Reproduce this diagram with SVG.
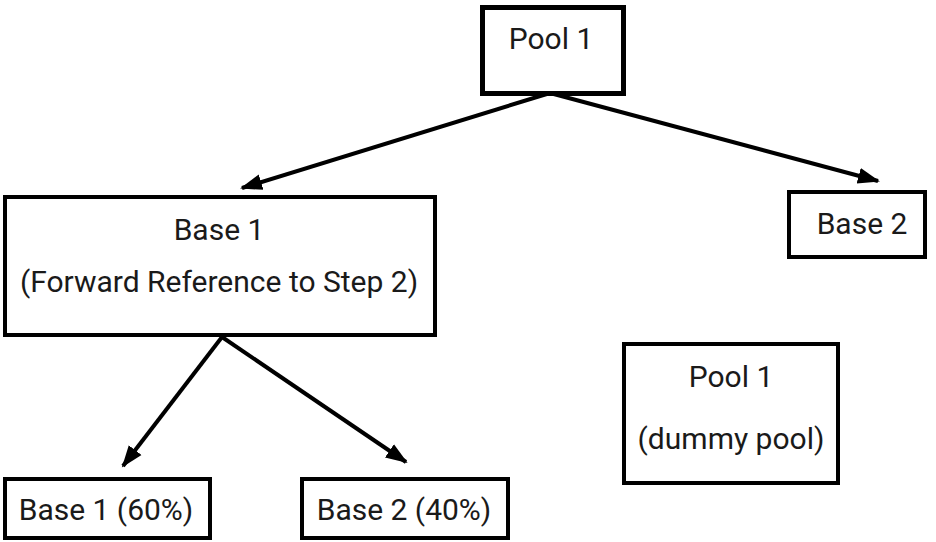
<svg xmlns="http://www.w3.org/2000/svg" width="936" height="542" viewBox="0 0 936 542">
<style>
.box{fill:#fff;stroke:#000;stroke-width:4}
.t{font-family:Roboto,"Liberation Sans",sans-serif;font-size:30px;fill:#1a1a1a;text-anchor:middle}
.c{stroke:#000;stroke-width:4;fill:none;marker-end:url(#ah)}
</style>
<defs>
<marker id="ah" markerUnits="userSpaceOnUse" markerWidth="24" markerHeight="20" refX="20" refY="8" orient="auto" viewBox="0 0 24 16">
<path d="M0,0 L22,8 L0,16 Z" fill="#000"/>
</marker>
</defs>
<rect width="936" height="542" fill="#fff"/>
<g id="connectors">
<line class="c" x1="550" y1="93" x2="242" y2="188"/>
<line class="c" x1="550" y1="93" x2="878" y2="181"/>
<line class="c" x1="222" y1="337" x2="123" y2="466"/>
<line class="c" x1="222" y1="337" x2="406" y2="462"/>
</g>
<g id="pool1">
<rect class="box" x="482.5" y="7.5" width="141" height="86" style="stroke-width:5"/>
<text class="t" x="551" y="49">Pool 1</text>
</g>
<g id="base1">
<rect class="box" x="5" y="197" width="430" height="138"/>
<text class="t" x="219" y="240">Base 1</text>
<text class="t" x="219" y="292">(Forward Reference to Step 2)</text>
</g>
<g id="base2">
<rect class="box" x="789" y="192" width="136" height="65"/>
<text class="t" x="862" y="234">Base 2</text>
</g>
<g id="base1-60">
<rect class="box" x="5" y="479" width="205" height="59"/>
<text class="t" x="106" y="520">Base 1 (60%)</text>
</g>
<g id="base2-40">
<rect class="box" x="302" y="479" width="206" height="59"/>
<text class="t" x="404" y="520">Base 2 (40%)</text>
</g>
<g id="pool1-dummy">
<rect class="box" x="624" y="344" width="214" height="139"/>
<text class="t" x="731" y="387">Pool 1</text>
<text class="t" x="731" y="449">(dummy pool)</text>
</g>
</svg>
